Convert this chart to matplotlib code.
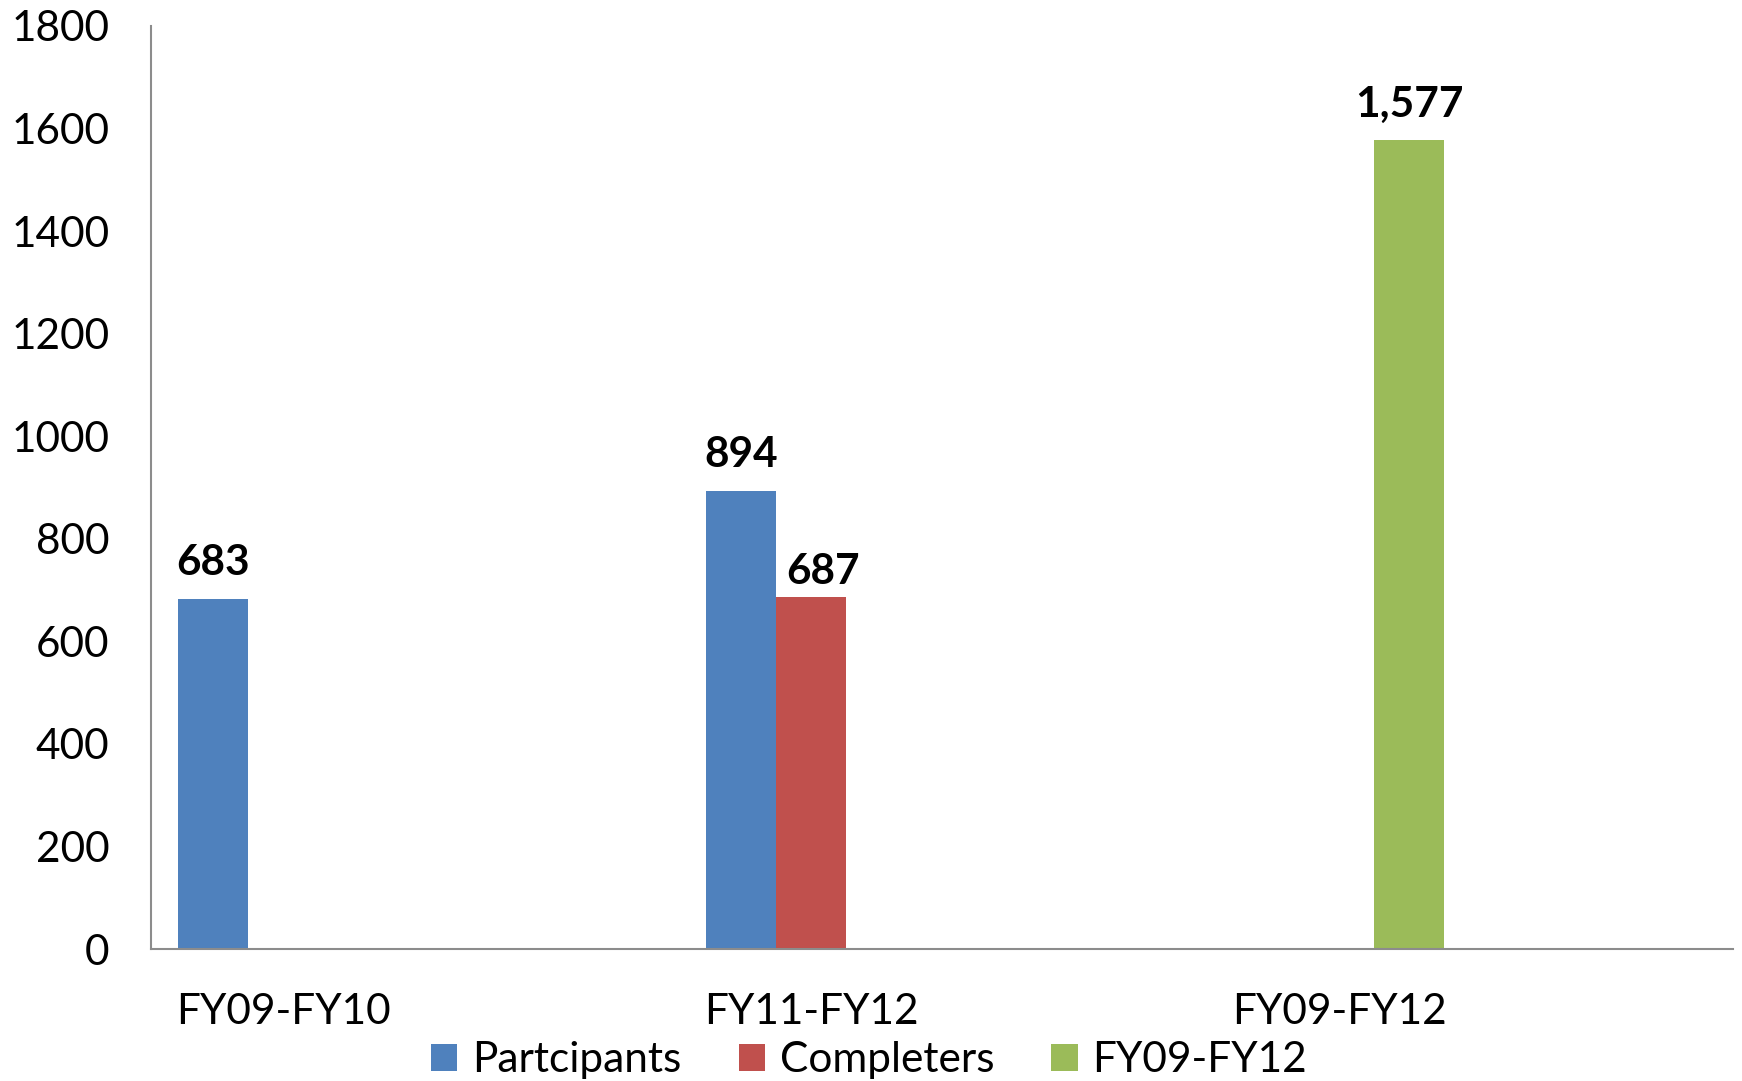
import numpy as np
import matplotlib
matplotlib.use("Agg")
import matplotlib.pyplot as plt

plt.rcParams['font.family'] = ['Lato', 'DejaVu Sans']

# Cohort totals by period
periods = ['FY09-FY10', 'FY11-FY12', 'FY09-FY12']
participants = [683, 894, np.nan]
completers = [np.nan, 687, np.nan]
combined = [np.nan, np.nan, 1577]
series_names = ['Partcipants', 'Completers', 'FY09-FY12']
colors = ['#4F81BD', '#C0504D', '#9BBB59']

fig = plt.figure(figsize=(17.42, 10.81), dpi=100)
ax = fig.add_axes([0.0867, 0.1221, 0.9081, 0.8539])

x = np.arange(len(periods))
w = 0.133
fs = 30.5
handles = []
for i, (vals, name, col) in enumerate(zip([participants, completers, combined], series_names, colors)):
    pos = x + (i - 1) * w
    bars = ax.bar(pos, vals, width=w, color=col, label=name)
    handles.append(bars)
    for p, v in zip(pos, vals):
        if not np.isnan(v):
            # nudge the completers label so it clears the taller neighbour
            off = (9, 9) if name == 'Completers' else (0, 17)
            ax.annotate(f'{v:,.0f}', (p, v), xytext=off, textcoords='offset points',
                        ha='center', va='baseline', fontsize=fs, fontweight='bold')

ax.set_xlim(-0.25, 2.746)
ax.set_ylim(0, 1800)
ax.set_yticks(range(0, 1801, 200))
ax.set_xticks(x)
ax.set_xticklabels(periods)
ax.tick_params(axis='y', length=0, pad=30, labelsize=fs)
ax.tick_params(axis='x', length=0, pad=32, labelsize=fs)

for s in ['top', 'right']:
    ax.spines[s].set_visible(False)
for s in ['left', 'bottom']:
    ax.spines[s].set_color('#8c8c8c')
    ax.spines[s].set_linewidth(1.5)

fig.legend(handles=handles, labels=series_names, loc='center', bbox_to_anchor=(0.499, 0.019),
           ncol=3, frameon=False, fontsize=fs, handlelength=0.62, handleheight=0.62,
           handletextpad=0.35, columnspacing=1.35, borderaxespad=0, borderpad=0)

fig.savefig('out.png', dpi=100)
